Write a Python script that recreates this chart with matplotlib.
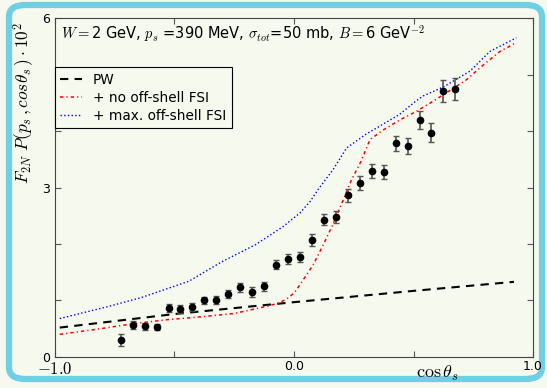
import matplotlib
matplotlib.use('Agg')
import matplotlib.pyplot as plt
import matplotlib.patches as mpatches

plt.rcParams['mathtext.fontset'] = 'cm'

# measured distribution (points with errors)
x_data = [-0.725, -0.675, -0.625, -0.575, -0.525, -0.475, -0.425, -0.375, -0.325, -0.275,
          -0.225, -0.175, -0.125, -0.075, -0.025, 0.025, 0.075, 0.125, 0.175, 0.225,
          0.275, 0.325, 0.375, 0.425, 0.475, 0.525, 0.575, 0.625, 0.675]
y_data = [0.30, 0.57, 0.54, 0.53, 0.87, 0.85, 0.88, 1.00, 1.01, 1.12,
          1.23, 1.15, 1.25, 1.63, 1.73, 1.77, 2.07, 2.43, 2.48, 2.86,
          3.08, 3.29, 3.27, 3.78, 3.73, 4.19, 3.97, 4.71, 4.74]
y_err = [0.10, 0.07, 0.06, 0.06, 0.07, 0.07, 0.07, 0.07, 0.07, 0.07,
         0.08, 0.08, 0.08, 0.08, 0.09, 0.09, 0.10, 0.10, 0.10, 0.12,
         0.12, 0.12, 0.12, 0.14, 0.14, 0.16, 0.17, 0.19, 0.19]

# plane wave
x_pw = [-0.98, -0.5, 0.0, 0.5, 0.92]
y_pw = [0.52, 0.76, 0.97, 1.17, 1.33]

# FSI without off-shell effects
x_fsi = [-0.98, -0.81, -0.67, -0.53, -0.39, -0.25, -0.11, -0.06, -0.03, 0.0, 0.025,
         0.08, 0.123, 0.165, 0.206, 0.241, 0.28, 0.318, 0.374, 0.444, 0.513, 0.583,
         0.653, 0.722, 0.792, 0.862, 0.932]
y_fsi = [0.40, 0.50, 0.59, 0.66, 0.71, 0.77, 0.90, 0.96, 1.03, 1.13, 1.28,
         1.63, 1.99, 2.37, 2.78, 3.14, 3.46, 3.85, 4.02, 4.20, 4.35, 4.53,
         4.72, 4.91, 5.17, 5.41, 5.57]

# FSI with maximal off-shell effects
x_off = [-0.98, -0.78, -0.64, -0.44, -0.30, -0.16, -0.045, 0.025, 0.067, 0.10, 0.164,
         0.22, 0.30, 0.44, 0.51, 0.54, 0.625, 0.736, 0.82, 0.93]
y_off = [0.68, 0.89, 1.05, 1.34, 1.69, 1.99, 2.31, 2.55, 2.75, 2.96, 3.32,
         3.70, 3.94, 4.29, 4.53, 4.62, 4.78, 5.06, 5.41, 5.65]

bg = '#f6f9ee'
frame_col = '#6fd0e4'

fig = plt.figure(figsize=(5.47, 3.88), dpi=100, facecolor=bg)
ax = fig.add_axes([0.1005, 0.080, 0.874, 0.8735], facecolor=bg)

ax.plot(x_pw, y_pw, color='black', ls='--', lw=1.5, dashes=(4, 3), label='PW')
ax.plot(x_fsi, y_fsi, color='red', lw=1.1, dashes=(2.2, 2, 0.8, 2), label='+ no off-shell FSI')
ax.plot(x_off, y_off, color='blue', ls=':', lw=1.0, label='+ max. off-shell FSI')
ax.errorbar(x_data, y_data, yerr=y_err, fmt='o', color='black', ms=4.5,
            ecolor='#555555', elinewidth=1.2, capsize=2.5, capthick=1.0, zorder=5)

ax.set_xlim(-1, 1)
ax.set_ylim(0, 6)
ax.set_xticks([-1.0, -0.5, 0.0, 0.5, 1.0])
ax.set_xticklabels(['$-1.0$', '', '0.0', '', '1.0'])
ax.set_yticks([0, 1, 2, 3, 4, 5, 6])
ax.set_yticklabels(['0', '', '', '3', '', '', '6'])
ax.tick_params(direction='in', length=4, top=True, right=True, labelsize=9, color='#555555')
ax.tick_params(axis='x', pad=2)
ax.get_xticklabels()[0].set_fontsize(12)
for s in ax.spines.values():
    s.set_color('#444444')

ax.set_ylabel(r'$F_{2N}\ P(p_s\,, cos\theta_s\,)\cdot 10^2$', fontsize=12.5)
ax.yaxis.set_label_coords(-0.040, 0.75)
ax.set_xlabel(r'$\cos\theta_s$', fontsize=13, labelpad=0)
ax.xaxis.set_label_coords(0.8, -0.022)

ax.text(0.012, 0.955, r'$W=$2 GeV, $p_s$ =390 MeV, $\sigma_{tot}$=50 mb, $B=$6 GeV$^{-2}$',
        transform=ax.transAxes, fontsize=10.5, va='center', ha='left')

leg = ax.legend(loc='upper left', bbox_to_anchor=(0.0, 0.855), borderaxespad=0,
                fancybox=False, framealpha=1, facecolor=bg, edgecolor='black',
                fontsize=9.8, handlelength=1.6, labelspacing=0.3)
leg.get_frame().set_linewidth(0.8)

border = mpatches.FancyBboxPatch((9 / 547, 9 / 388), 533 / 547, 374 / 388,
                                 boxstyle='round,pad=0,rounding_size=0.03',
                                 transform=fig.transFigure, facecolor='none',
                                 edgecolor=frame_col, linewidth=4.5, zorder=-1)
fig.patches.append(border)

fig.savefig('out.png', dpi=100, facecolor=bg)
